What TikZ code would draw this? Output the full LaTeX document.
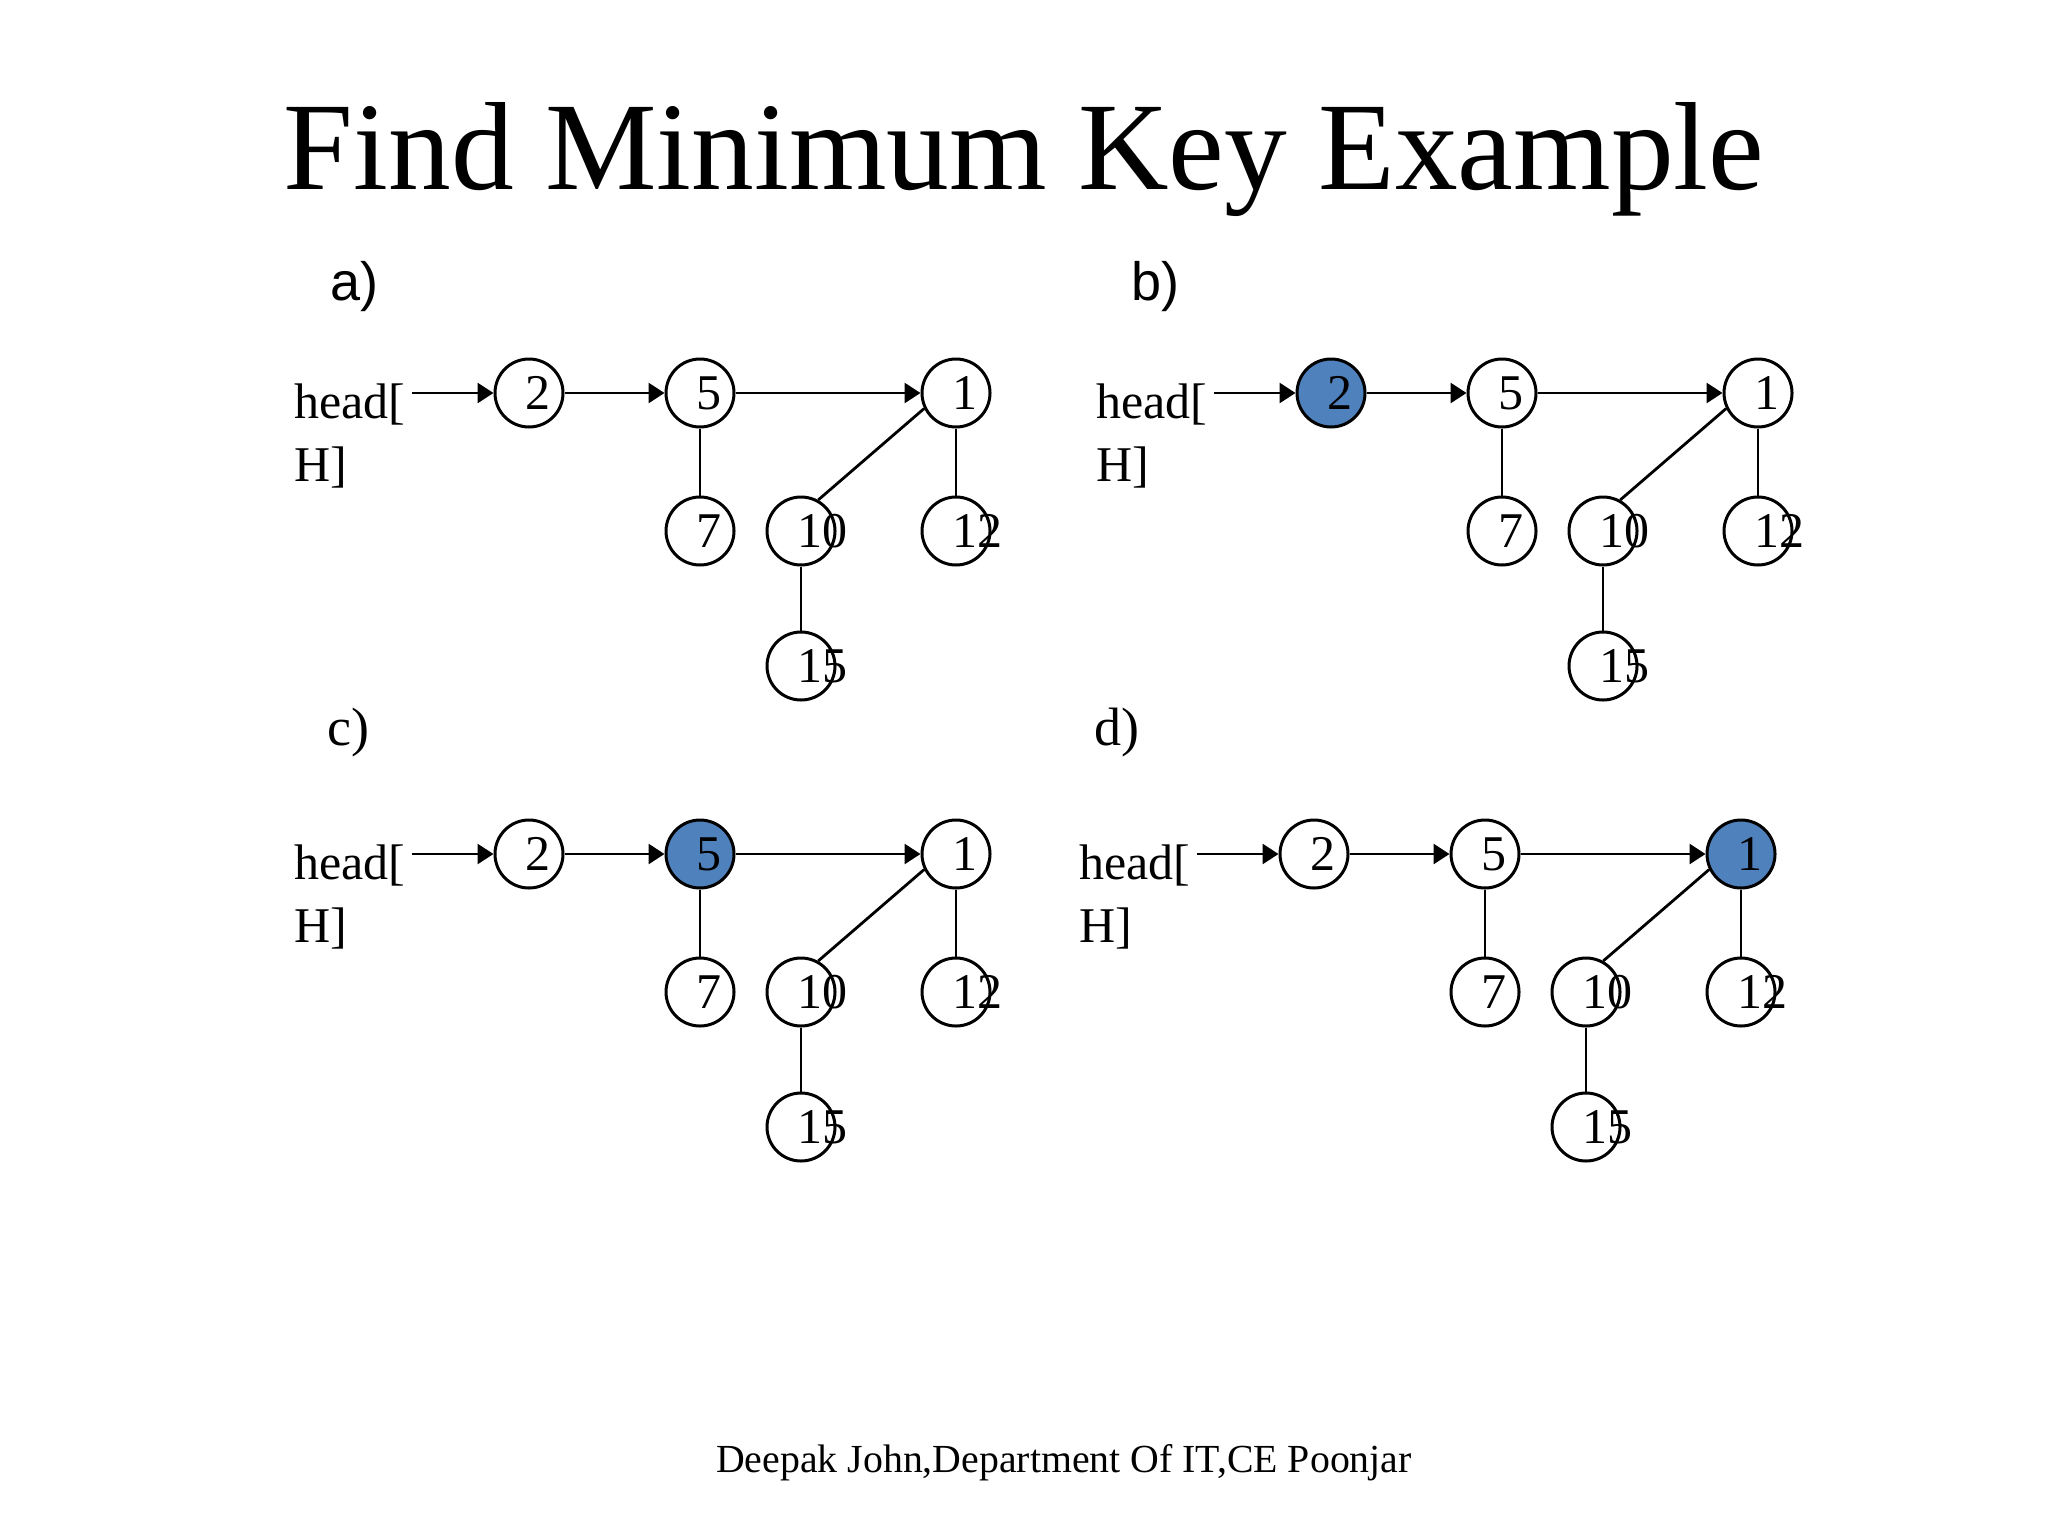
\documentclass[tikz,border=0pt]{standalone}
\usepackage{fontspec}
\setmainfont{Liberation Serif}
\newfontfamily\arialfont{Liberation Sans}
\usetikzlibrary{arrows.meta}
\definecolor{nodeblue}{RGB}{79,129,189}
\tikzset{
  keynode/.style={circle, draw, line width=1.5pt, minimum size=34pt, inner sep=0pt},
  keytext/.style={anchor=west, inner sep=0pt, font=\fontsize{25}{25}\selectfont},
  headtext/.style={anchor=base west, inner sep=0pt, font=\fontsize{25}{25}\selectfont},
  link/.style={line width=1.4pt},
  ptr/.style={line width=1.4pt, -{Triangle[length=8pt,width=10pt]}},
  panellabel/.style={anchor=base west, inner sep=0pt},
}
\newcommand{\heappanel}[6]{%
\begin{scope}[shift={(#1,#2)}]
  \node[headtext] (#3head) at (294,418) {head[};
  \node[headtext] (#3H) at (294,481) {H]};
  \coordinate (#3s) at (412,393);
  \node[keynode, fill=#4] (#3n2) at (529,393) {};
  \node[keynode, fill=#5] (#3n5) at (700,393) {};
  \node[keynode, fill=#6] (#3n1) at (956,393) {};
  \node[keynode, fill=white] (#3n7) at (700,531) {};
  \node[keynode, fill=white] (#3n10) at (801,531) {};
  \node[keynode, fill=white] (#3n12) at (956,531) {};
  \node[keynode, fill=white] (#3n15) at (801,666) {};
  \draw[ptr] (#3s) -- (#3n2);
  \draw[ptr] (#3n2) -- (#3n5);
  \draw[ptr] (#3n5) -- (#3n1);
  \draw[link] (#3n5) -- (#3n7);
  \draw[link] (#3n1) -- (#3n12);
  \draw[link] (#3n1.206) -- (#3n10.61);
  \draw[link] (#3n10) -- (#3n15);
  \node[keytext] (#3t2) at ([xshift=-2pt]#3n2.center) {2};
  \node[keytext] (#3t5) at ([xshift=-2pt]#3n5.center) {5};
  \node[keytext] (#3t1) at ([xshift=-2pt]#3n1.center) {1};
  \node[keytext] (#3t7) at ([xshift=-2pt]#3n7.center) {7};
  \node[keytext] (#3t10) at ([xshift=-2pt]#3n10.center) {10};
  \node[keytext] (#3t12) at ([xshift=-2pt]#3n12.center) {12};
  \node[keytext] (#3t15) at ([xshift=-2pt]#3n15.center) {15};
\end{scope}}
\begin{document}
\begin{tikzpicture}[x=0.5pt,y=-0.5pt]
  \fill[white] (0,0) rectangle (2048,1536);
  \useasboundingbox (0,0) rectangle (2048,1536);
  \node[anchor=base, inner sep=0pt] (title) at (1024,189) {\fontsize{62.7}{62.7}\selectfont Find Minimum Key Example};
  \node[panellabel, font=\arialfont\fontsize{27}{27}\selectfont] (la) at (330,300) {a)};
  \node[panellabel, font=\arialfont\fontsize{27}{27}\selectfont] (lb) at (1131,300) {b)};
  \node[panellabel, font=\fontsize{27}{27}\selectfont] (lc) at (327,745) {c)};
  \node[panellabel, font=\fontsize{27}{27}\selectfont] (ld) at (1094,745) {d)};
  \heappanel{0}{0}{a}{white}{white}{white}
  \heappanel{802}{0}{b}{nodeblue}{white}{white}
  \heappanel{0}{461}{c}{white}{nodeblue}{white}
  \heappanel{785}{461}{d}{white}{white}{nodeblue}
  \node[anchor=base, inner sep=0pt] (foot) at (1064,1472) {\fontsize{19.9}{19.9}\selectfont Deepak John,Department Of IT,CE Poonjar};
\end{tikzpicture}
\end{document}
